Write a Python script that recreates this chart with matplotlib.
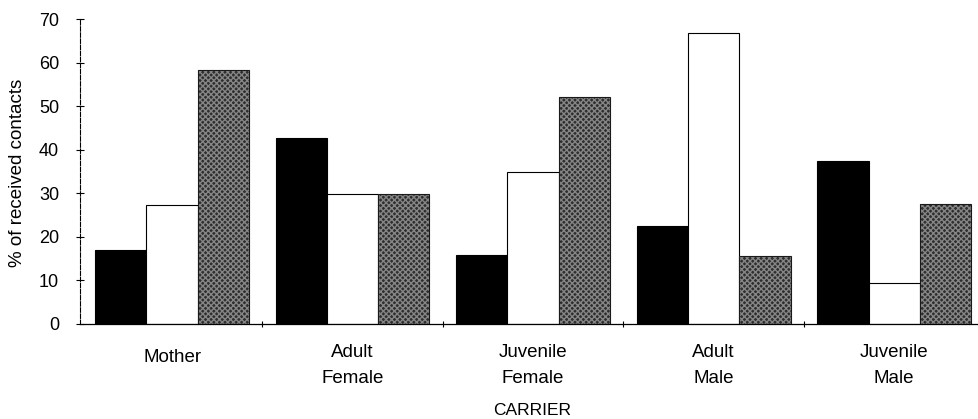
import matplotlib
matplotlib.use("Agg")
import matplotlib.pyplot as plt
import numpy as np

plt.rcParams['font.family'] = ['Liberation Sans', 'DejaVu Sans']

categories = ["Mother", "Adult\nFemale", "Juvenile\nFemale", "Adult\nMale", "Juvenile\nMale"]
series_black = [17.0, 42.6, 15.8, 22.5, 37.5]
series_white = [27.3, 29.8, 35.0, 66.8, 9.5]
series_gray = [58.3, 29.8, 52.0, 15.5, 27.5]
yticks = [0, 10, 20, 30, 40, 50, 60, 70]

W, H = 979, 419
fig = plt.figure(figsize=(W/100, H/100), dpi=100)
ax = fig.add_axes([80/W, 1-324/H, 1-80/W, (324-19)/H])

x = np.arange(len(categories))
w = 0.284
ax.bar(x - w, series_black, w, color='black', edgecolor='black', linewidth=0.8)
ax.bar(x, series_white, w, color='white', edgecolor='black', linewidth=0.8)
ax.bar(x + w, series_gray, w, color='#2e2e2e', edgecolor='#858585', linewidth=0, hatch='xxxxxx')
ax.bar(x + w, series_gray, w, color='none', edgecolor='#1a1a1a', linewidth=0.8)

ax.set_ylim(0, 70)
ax.set_xlim(-0.51, len(categories) - 1 + 0.47)
ax.set_yticks(yticks)
ax.set_yticklabels([str(t) for t in yticks], fontsize=13)
ax.set_xticks(np.arange(len(categories) - 1) + 0.5)
ax.set_xticklabels([])
ax.tick_params(axis='y', direction='inout', length=6, width=0.8, pad=12)
ax.tick_params(axis='x', direction='inout', length=5, width=0.8)
for s in ['top', 'right']:
    ax.spines[s].set_visible(False)
ax.spines['left'].set_linewidth(0.8)
ax.spines['left'].set_linestyle((0, (4, 1.5)))
ax.spines['bottom'].set_linewidth(0.9)

# category labels, positioned by pixel baselines
trans = ax.get_xaxis_transform()
for i, c in enumerate(categories):
    lines = c.split("\n")
    if len(lines) == 1:
        bases = [362]
    else:
        bases = [357, 383]
    for ln, b in zip(lines, bases):
        ax.text(i, 1 - (b - 19) / (324 - 19), ln, transform=trans, ha='center',
                va='baseline', fontsize=13.5, clip_on=False)

fig.text(532/W, 1 - 415/H, "CARRIER", ha='center', va='baseline', fontsize=12.5)
ax.set_ylabel("% of received contacts", fontsize=13.5)
ax.yaxis.set_label_coords((26 - 80) / (W - 80), (324 - 173) / (324 - 19))

fig.savefig("out.png", dpi=100)
